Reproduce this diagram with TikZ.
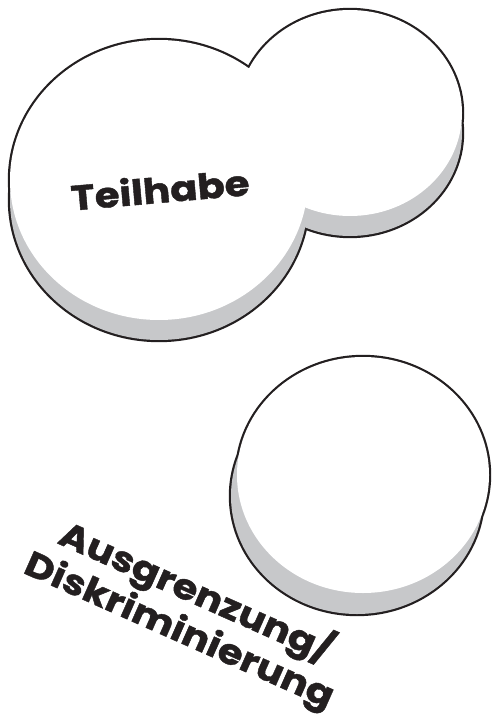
\documentclass[tikz,border=0pt]{standalone}
\usepackage{fontspec}
\newfontfamily\coinfont{Poppins}[FakeStretch=1.15, FakeBold=1.2]
\usetikzlibrary{positioning}
\definecolor{coinrim}{RGB}{199,200,202}
\definecolor{coinink}{RGB}{35,31,32}

\begin{document}
\begin{tikzpicture}[
    x=1pt, y=-1pt,
    coinedge/.style={draw=coinink, line width=4.4pt, fill=white},
    coinside/.style={fill=coinrim},
    coinface/.style={fill=white},
    coinlabel/.style={text=coinink, inner sep=0pt, font=\coinfont\bfseries\fontsize{35}{41}\selectfont}
]
    \useasboundingbox (0,0) rectangle (492,722);

    % Coins: outline first, then rim, then face on top
    \foreach \cx/\cy/\rx/\ry/\dx/\dy in {159/180/149/140/0/20, 350/113/112/103/0/20, 363/475/126/118/-6/21} {
        \draw[coinedge] (\cx+\dx,\cy+\dy) ellipse [x radius=\rx pt, y radius=\ry pt]
                        (\cx,\cy) ellipse [x radius=\rx pt, y radius=\ry pt];
    }
    \foreach \cx/\cy/\rx/\ry/\dx/\dy in {159/180/149/140/0/20, 350/113/112/103/0/20, 363/475/126/118/-6/21} {
        \fill[coinside] (\cx+\dx,\cy+\dy) ellipse [x radius=\rx pt, y radius=\ry pt];
    }
    \foreach \cx/\cy/\rx/\ry in {159/180/149/140, 350/113/112/103, 363/475/126/118} {
        \fill[coinface] (\cx,\cy) ellipse [x radius=\rx pt, y radius=\ry pt];
    }

    % Labels
    \node[coinlabel, rotate=5] (teilhabe) at (160,189) {Teilhabe};
    \node[coinlabel, rotate=-24, align=center] (ausgrenzung) at (188,611) {Ausgrenzung/\\Diskriminierung};
\end{tikzpicture}
\end{document}
